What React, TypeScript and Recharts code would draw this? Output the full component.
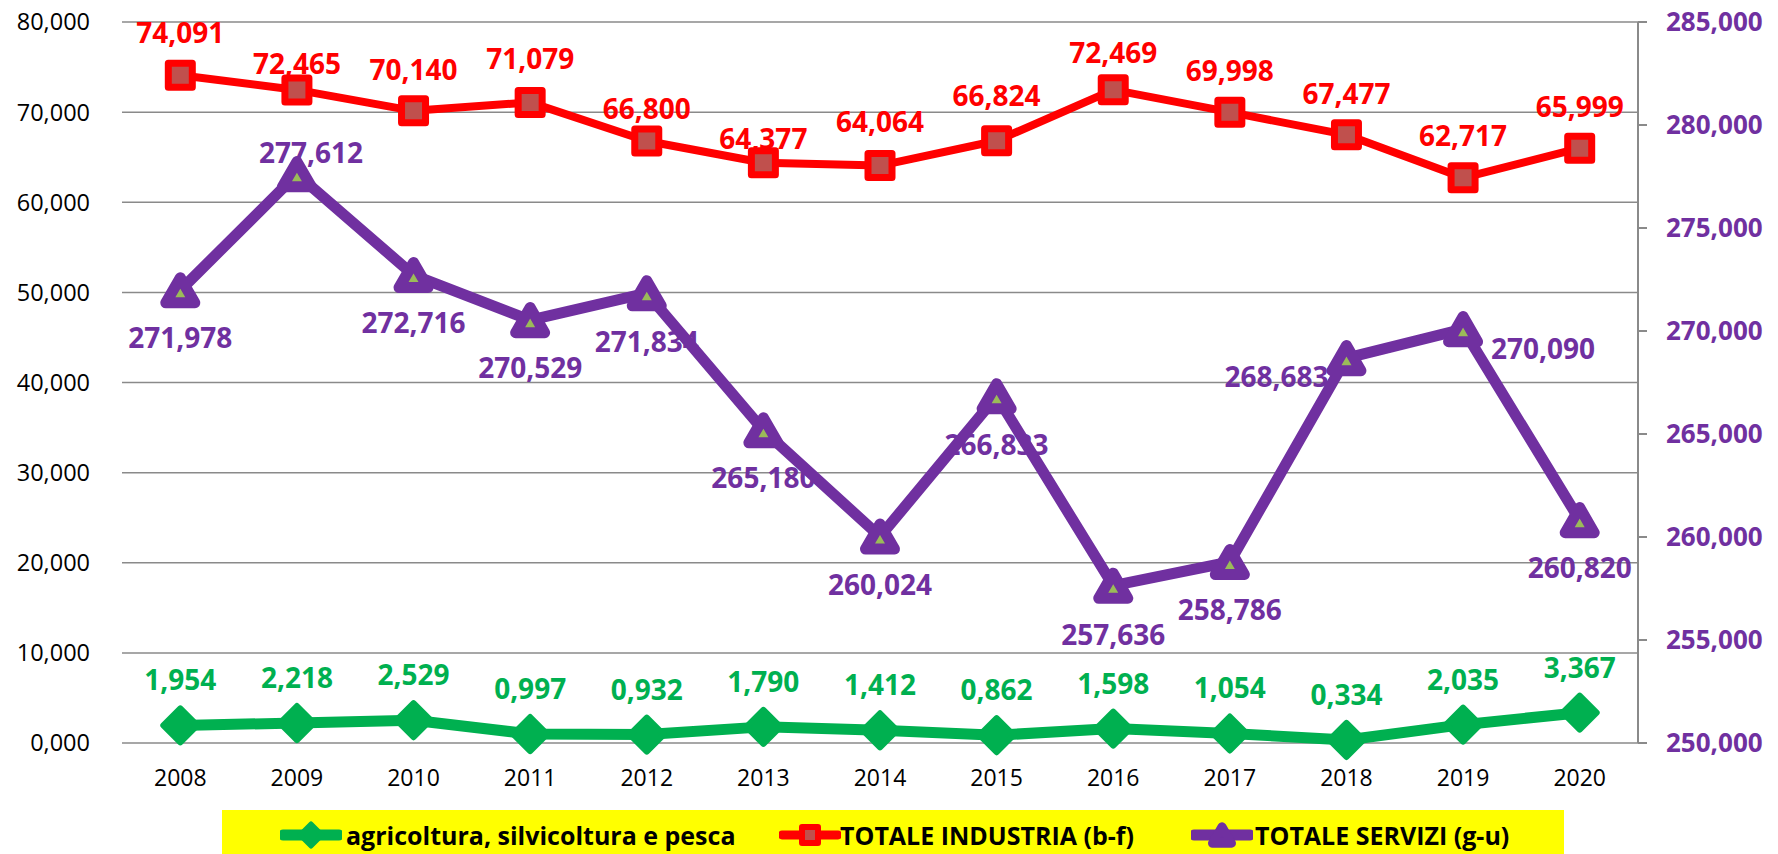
import React from 'react';
import { ComposedChart, Line, XAxis, YAxis, CartesianGrid } from 'recharts';

const years = ['2008', '2009', '2010', '2011', '2012', '2013', '2014', '2015', '2016', '2017', '2018', '2019', '2020'];
const agricoltura = [1.954, 2.218, 2.529, 0.997, 0.932, 1.79, 1.412, 0.862, 1.598, 1.054, 0.334, 2.035, 3.367];
const industria = [74.091, 72.465, 70.14, 71.079, 66.8, 64.377, 64.064, 66.824, 72.469, 69.998, 67.477, 62.717, 65.999];
const servizi = [271.978, 277.612, 272.716, 270.529, 271.834, 265.18, 260.024, 266.833, 257.636, 258.786, 268.683, 270.09, 260.82];
const leftTicks = [0, 10, 20, 30, 40, 50, 60, 70, 80];
const rightTicks = [250, 255, 260, 265, 270, 275, 280, 285];
const seriesNames = ['agricoltura, silvicoltura e pesca', 'TOTALE INDUSTRIA (b-f)', 'TOTALE SERVIZI (g-u)'];

const rows = years.map((y, i) => ({ year: y, agri: agricoltura[i], ind: industria[i], serv: servizi[i] }));

// label placement (style)
const indLabelDy = [-42, -26, -41, -43, -32, -24, -44, -45, -37, -41, -41, -42, -41];
const servLabelPos: { dx: number; dy: number; anchor: string }[] = [
  { dx: 0, dy: 48, anchor: 'middle' },
  { dx: 14, dy: -21, anchor: 'middle' },
  { dx: 0, dy: 48, anchor: 'middle' },
  { dx: 0, dy: 48, anchor: 'middle' },
  { dx: 0, dy: 49, anchor: 'middle' },
  { dx: 0, dy: 48, anchor: 'middle' },
  { dx: 0, dy: 48, anchor: 'middle' },
  { dx: 0, dy: 49, anchor: 'middle' },
  { dx: 0, dy: 49, anchor: 'middle' },
  { dx: 0, dy: 48, anchor: 'middle' },
  { dx: -18, dy: 19, anchor: 'end' },
  { dx: 28, dy: 20, anchor: 'start' },
  { dx: 0, dy: 48, anchor: 'middle' },
];

const FONT = "'Open Sans', 'Noto Sans', sans-serif";
const GREEN = '#00B050';
const RED = '#FF0000';
const RED_IN = '#C0504D';
const PURPLE = '#7030A0';
const TRI_IN = '#9BBB59';
const GRID = '#8a8a8a';
const LABEL_FS = 28;

const fmt = (v: number) => v.toFixed(3).replace('.', ',');

const LeftTick = (p: any) => (
  <text x={p.x} y={p.y} dy={0.357 * 23.5} textAnchor="end" fontFamily={FONT} fontSize={23.5} fill="#000">
    {fmt(p.payload.value)}
  </text>
);
const RightTick = (p: any) => (
  <text x={p.x} y={p.y} dy={0.357 * 26} textAnchor="start" fontFamily={FONT} fontSize={26} fontWeight="bold" fill={PURPLE}>
    {fmt(p.payload.value)}
  </text>
);
const XTick = (p: any) => (
  <text x={p.x} y={p.y} dy={16.5} textAnchor="middle" fontFamily={FONT} fontSize={23} fill="#000">
    {p.payload.value}
  </text>
);

const labelText = (key: string, x: number, y: number, value: number, color: string, anchor = 'middle') => (
  <text key={key} x={x} y={y + 0.357 * LABEL_FS} textAnchor={anchor} fontFamily={FONT} fontSize={LABEL_FS} fontWeight="bold" fill={color}>
    {fmt(value)}
  </text>
);

const AgriLabel = (p: any) => labelText(`al-${p.index}`, p.cx, p.cy - 45, agricoltura[p.index], GREEN);
const IndLabel = (p: any) => labelText(`il-${p.index}`, p.cx, p.cy + indLabelDy[p.index], industria[p.index], RED);
const ServLabel = (p: any) => {
  const pos = servLabelPos[p.index];
  return labelText(`sl-${p.index}`, p.cx + pos.dx, p.cy + pos.dy, servizi[p.index], PURPLE, pos.anchor);
};

const diamondPath = (cx: number, cy: number, r: number) => `M${cx},${cy - r} L${cx + r},${cy} L${cx},${cy + r} L${cx - r},${cy} Z`;
const triPath = (cx: number, cy: number, s: number) => {
  const h = s * 0.866;
  return `M${cx},${cy - h / 2} L${cx + s / 2},${cy + h / 2} L${cx - s / 2},${cy + h / 2} Z`;
};

const AgriDot = (p: any) => (
  <path key={`ad-${p.index}`} d={diamondPath(p.cx, p.cy, 17)} fill={GREEN} stroke={GREEN} strokeWidth={6} strokeLinejoin="round" />
);
const IndDot = (p: any) => (
  <rect key={`id-${p.index}`} x={p.cx - 12} y={p.cy - 12} width={24} height={24} fill={RED_IN} stroke={RED} strokeWidth={7} strokeLinejoin="round" />
);
const ServDot = (p: any) => (
  <path key={`sd-${p.index}`} d={triPath(p.cx, p.cy, 29)} fill={TRI_IN} stroke={PURPLE} strokeWidth={11} strokeLinejoin="round" />
);

const LegendIcon = ({ kind }: { kind: number }) => {
  const cx = 31;
  const cy = 22;
  return (
    <svg width={62} height={44} style={{ display: 'block' }}>
      {kind === 0 && (
        <g>
          <line x1={3} y1={cy} x2={59} y2={cy} stroke={GREEN} strokeWidth={11} strokeLinecap="round" />
          <path d={diamondPath(cx, cy, 11)} fill={GREEN} stroke={GREEN} strokeWidth={5} strokeLinejoin="round" />
        </g>
      )}
      {kind === 1 && (
        <g>
          <line x1={3} y1={cy} x2={59} y2={cy} stroke={RED} strokeWidth={9} strokeLinecap="round" />
          <rect x={cx - 8} y={cy - 8} width={16} height={16} fill={RED_IN} stroke={RED} strokeWidth={6} strokeLinejoin="round" />
        </g>
      )}
      {kind === 2 && (
        <g>
          <line x1={3} y1={cy} x2={59} y2={cy} stroke={PURPLE} strokeWidth={11} strokeLinecap="round" />
          <path d={triPath(cx, cy, 19)} fill={PURPLE} stroke={PURPLE} strokeWidth={9} strokeLinejoin="round" />
        </g>
      )}
    </svg>
  );
};

const legendLayout = [
  { icon: 58, text: 124 },
  { icon: 557, text: 618 },
  { icon: 969, text: 1033 },
];

export default function App() {
  return (
    <div style={{ position: 'absolute', left: 0, top: 0, width: 1778, height: 854, background: '#fff', overflow: 'hidden' }}>
      <ComposedChart width={1778} height={854} data={rows} margin={{ top: 22, right: 0, bottom: 0, left: 0 }}>
        <CartesianGrid yAxisId="left" vertical={false} stroke={GRID} strokeWidth={1.5} />
        <XAxis
          dataKey="year"
          scale="band"
          height={111}
          axisLine={false}
          tickLine={false}
          tickSize={0}
          tickMargin={26}
          tick={<XTick />}
          interval={0}
        />
        <YAxis
          yAxisId="left"
          orientation="left"
          width={122}
          domain={[0, 80]}
          ticks={leftTicks}
          axisLine={false}
          tickLine={false}
          tickSize={0}
          tickMargin={32}
          tick={<LeftTick />}
          interval={0}
        />
        <YAxis
          yAxisId="right"
          orientation="right"
          width={140}
          domain={[250, 285]}
          ticks={rightTicks}
          axisLine={{ stroke: GRID, strokeWidth: 2 }}
          tickLine={{ stroke: GRID, strokeWidth: 2 }}
          tickSize={9}
          tickMargin={19}
          tick={<RightTick />}
          interval={0}
        />
        {/* labels drawn beneath the lines */}
        <Line yAxisId="left" dataKey="agri" stroke="none" dot={AgriLabel} activeDot={false} isAnimationActive={false} legendType="none" />
        <Line yAxisId="left" dataKey="ind" stroke="none" dot={IndLabel} activeDot={false} isAnimationActive={false} legendType="none" />
        <Line yAxisId="right" dataKey="serv" stroke="none" dot={ServLabel} activeDot={false} isAnimationActive={false} legendType="none" />
        {/* visible series */}
        <Line
          yAxisId="left"
          type="linear"
          dataKey="agri"
          name={seriesNames[0]}
          stroke={GREEN}
          strokeWidth={11}
          strokeLinejoin="round"
          dot={AgriDot}
          activeDot={false}
          isAnimationActive={false}
        />
        <Line
          yAxisId="left"
          type="linear"
          dataKey="ind"
          name={seriesNames[1]}
          stroke={RED}
          strokeWidth={8}
          strokeLinejoin="round"
          dot={IndDot}
          activeDot={false}
          isAnimationActive={false}
        />
        <Line
          yAxisId="right"
          type="linear"
          dataKey="serv"
          name={seriesNames[2]}
          stroke={PURPLE}
          strokeWidth={11}
          strokeLinejoin="round"
          dot={ServDot}
          activeDot={false}
          isAnimationActive={false}
        />
      </ComposedChart>
      <div style={{ position: 'absolute', left: 222, top: 810, width: 1342, height: 44, background: '#FFFF00' }}>
        {seriesNames.map((n, i) => (
          <React.Fragment key={n}>
            <div style={{ position: 'absolute', left: legendLayout[i].icon, top: 3 }}>
              <LegendIcon kind={i} />
            </div>
            <div
              style={{
                position: 'absolute',
                left: legendLayout[i].text,
                top: 0,
                height: 50,
                lineHeight: '50px',
                fontFamily: FONT,
                fontWeight: 'bold',
                fontSize: 25,
                color: '#000',
                whiteSpace: 'nowrap',
              }}
            >
              {n}
            </div>
          </React.Fragment>
        ))}
      </div>
    </div>
  );
}
